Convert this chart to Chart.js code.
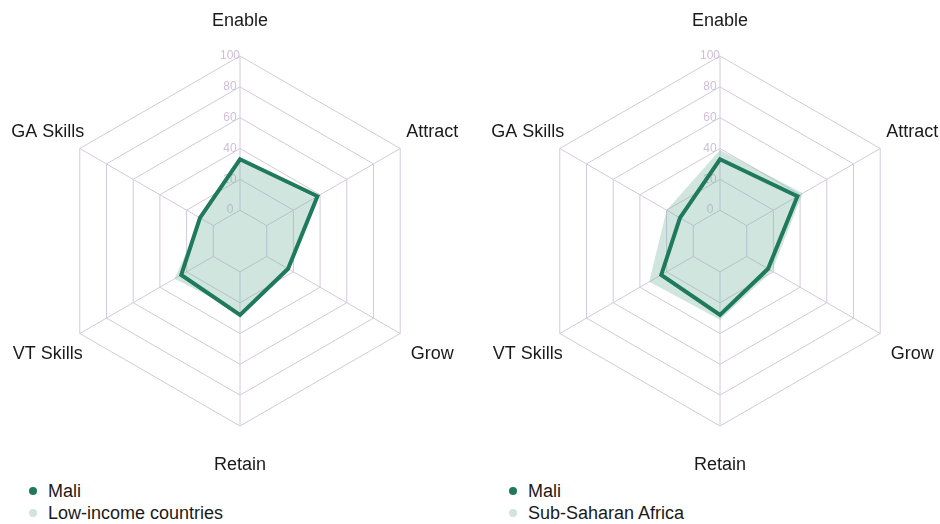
<!DOCTYPE html>
<html>
<head>
<meta charset="utf-8">
<script src="https://cdn.jsdelivr.net/npm/chart.js@4"></script>
<style>
  body { margin: 0; background: #fff; font-family: "Liberation Sans", Arial, sans-serif; }
  .panel { position: absolute; top: 0; height: 524px; }
  .panel .box { position: relative; height: 478px; }
  .legend { list-style: none; margin: 0; padding: 2px 0 0 29px; }
  .legend li { display: flex; align-items: center; height: 22px; font-size: 18px; color: #1a1a1a; }
  .legend li span { width: 8px; height: 8px; border-radius: 50%; margin-right: 11px; }
</style>
</head>
<body>

<div class="panel" style="left:0; width:470px;">
  <div class="box"><canvas id="chart-low-income"></canvas></div>
  <ul class="legend" id="legend-low-income"></ul>
</div>

<div class="panel" style="left:480px; width:460px;">
  <div class="box"><canvas id="chart-ssa"></canvas></div>
  <ul class="legend" id="legend-ssa"></ul>
</div>

<script>
  const axes = ["Enable", "Attract", "Grow", "Retain", "VT Skills", "GA Skills"];
  const tickLabels = [0, 20, 40, 60, 80, 100];

  const maliValues = [33, 38, 16, 28, 24, 10];
  const lowIncomeValues = [32, 36, 15, 26, 29, 9];
  const ssaValues = [39, 42, 19, 31, 33, 20];

  const darkGreen = "#1f7a5c";
  const lightGreen = "rgba(120, 180, 160, 0.35)";
  const gridColor = "#d3c8dd";

  // point labels centred on the spoke, a bit outside the outer ring
  const axisLabels = {
    id: "axisLabels",
    afterDraw: (chart) => {
      const r = chart.scales.r;
      const ctx = chart.ctx;
      ctx.save();
      ctx.font = '18px "Liberation Sans", Arial, sans-serif';
      ctx.fillStyle = "#1a1a1a";
      ctx.textAlign = "center";
      ctx.textBaseline = "middle";
      chart.data.labels.forEach((label, i) => {
        const p = r.getPointPosition(i, r.drawingArea + 37);
        ctx.fillText(label, p.x, p.y + 2);
      });
      ctx.restore();
    },
  };

  function makeChart(canvasId, legendId, otherLabel, otherValues, padRight) {
    const chart = new Chart(document.getElementById(canvasId), {
      type: "radar",
      data: {
        labels: axes,
        datasets: [
          {
            label: "Mali",
            data: maliValues,
            borderColor: darkGreen,
            backgroundColor: darkGreen,
            borderWidth: 4,
            borderJoinStyle: "miter",
            fill: false,
            pointRadius: 0,
          },
          {
            label: otherLabel,
            data: otherValues,
            borderColor: "rgba(0,0,0,0)",
            backgroundColor: lightGreen,
            borderWidth: 0,
            fill: "start",
            pointRadius: 0,
          },
        ],
      },
      options: {
        responsive: true,
        maintainAspectRatio: false,
        animation: false,
        layout: {
          padding: { left: 49, right: padRight, top: 50, bottom: 46 },
        },
        scales: {
          r: {
            min: -20,
            max: 100,
            ticks: {
              stepSize: 20,
              color: "#cfbfd8",
              font: { family: '"Liberation Sans", Arial, sans-serif', size: 12 },
              showLabelBackdrop: false,
              backdropPadding: 0,
              callback: (v) => (tickLabels.includes(v) ? v + "      " : ""),
            },
            grid: { color: gridColor, lineWidth: 1 },
            angleLines: {
              color: gridColor,
              lineWidth: 1,
              // spokes start at the 0 ring, not in the centre
              borderDash: (ctx) => {
                const d = ctx.chart.scales.r.getDistanceFromCenterForValue(0);
                return [0, d, 1000, 0];
              },
            },
            pointLabels: { display: false },
          },
        },
        plugins: {
          legend: { display: false },
          tooltip: { enabled: false },
        },
      },
      plugins: [axisLabels],
    });

    // html legend, one item per line
    const ul = document.getElementById(legendId);
    chart.options.plugins.legend.labels.generateLabels(chart).forEach((item) => {
      const li = document.createElement("li");
      const dot = document.createElement("span");
      dot.style.background = item.fillStyle;
      li.appendChild(dot);
      li.appendChild(document.createTextNode(item.text));
      ul.appendChild(li);
    });
    return chart;
  }

  makeChart("chart-low-income", "legend-low-income", "Low-income countries", lowIncomeValues, 39);
  makeChart("chart-ssa", "legend-ssa", "Sub-Saharan Africa", ssaValues, 29);
</script>
</body>
</html>
